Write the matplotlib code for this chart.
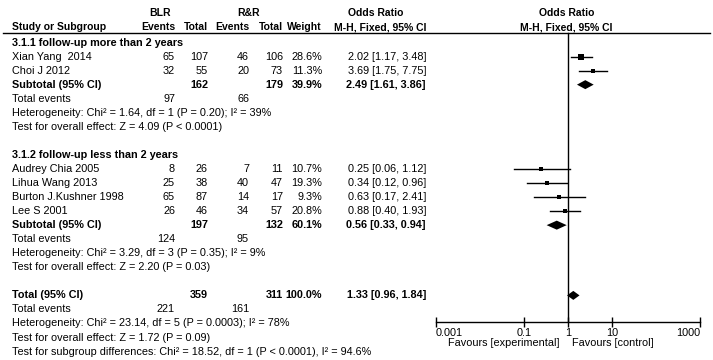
import numpy as np
import matplotlib.pyplot as plt
from matplotlib.patches import Polygon

plt.rcParams['font.family'] = ['Liberation Sans', 'DejaVu Sans']

# study data
studies = ["Xian Yang  2014", "Choi J 2012", "Audrey Chia 2005", "Lihua Wang 2013",
           "Burton J.Kushner 1998", "Lee S 2001"]
group = [0, 0, 1, 1, 1, 1]
blr_events = [65, 32, 8, 25, 65, 26]
blr_total = [107, 55, 26, 38, 87, 46]
rr_events = [46, 20, 7, 40, 14, 34]
rr_total = [106, 73, 11, 47, 17, 57]
weight = [28.6, 11.3, 10.7, 19.3, 9.3, 20.8]
odds = [2.02, 3.69, 0.25, 0.34, 0.63, 0.88]
ci_lo = [1.17, 1.75, 0.06, 0.12, 0.17, 0.40]
ci_hi = [3.48, 7.75, 1.12, 0.96, 2.41, 1.93]

# subgroups
sub_names = ["3.1.1 follow-up more than 2 years", "3.1.2 follow-up less than 2 years"]
sub_blr_total = [162, 197]
sub_rr_total = [179, 132]
sub_weight = [39.9, 60.1]
sub_odds = [2.49, 0.56]
sub_lo = [1.61, 0.33]
sub_hi = [3.86, 0.94]
sub_blr_events = [97, 124]
sub_rr_events = [66, 95]
sub_het = ["Heterogeneity: Chi² = 1.64, df = 1 (P = 0.20); I² = 39%",
           "Heterogeneity: Chi² = 3.29, df = 3 (P = 0.35); I² = 9%"]
sub_test = ["Test for overall effect: Z = 4.09 (P < 0.0001)",
            "Test for overall effect: Z = 2.20 (P = 0.03)"]

# overall
tot_blr_total, tot_rr_total, tot_weight = 359, 311, 100.0
tot_odds, tot_lo, tot_hi = 1.33, 0.96, 1.84
tot_blr_events, tot_rr_events = 221, 161
tot_notes = ["Heterogeneity: Chi² = 23.14, df = 5 (P = 0.0003); I² = 78%",
             "Test for overall effect: Z = 1.72 (P = 0.09)",
             "Test for subgroup differences: Chi² = 18.52, df = 1 (P < 0.0001), I² = 94.6%"]

ticks = [0.001, 0.1, 1, 10, 1000]
tick_labels = ["0.001", "0.1", "1", "10", "1000"]

W, H = 713, 360
fs = 7.8
hfs = 7.5  # header size
c = 'black'

fig = plt.figure(figsize=(W / 100, H / 100), dpi=100)
ax = fig.add_axes([0, 0, 1, 1])
ax.set_xlim(0, W)
ax.set_ylim(H, 0)
ax.axis('off')

# forest panel: x from px 435.7 to 700, bottom at px 322
fx0, fx1, fyb = 435.7, 700, 322
fa = fig.add_axes([fx0 / W, (H - fyb) / H, (fx1 - fx0) / W, fyb / H])
fa.set_xscale('log')
fa.set_xlim(0.001, 1000)
fa.set_ylim(fyb, 0)
fa.patch.set_visible(False)
for s in ['top', 'right', 'left']:
    fa.spines[s].set_visible(False)
fa.spines['bottom'].set_linewidth(1)
fa.set_yticks([])
fa.set_xticks(ticks)
fa.set_xticklabels(tick_labels)
fa.minorticks_off()
fa.tick_params(axis='x', direction='inout', length=7, width=1, labelsize=fs, pad=1)
lbls = fa.get_xticklabels()
lbls[0].set_horizontalalignment('left')
lbls[-1].set_horizontalalignment('right')


def row(i):
    return 42.5 + 14.05 * i


# column positions (right edges)
x_name = 12
x_be, x_bt, x_re, x_rt, x_w, x_ci = 175, 208, 249, 283, 322, 426

# headers
ax.text(160, 13, "BLR", ha='center', va='center', fontsize=hfs, fontweight='bold')
ax.text(248, 13, "R&R", ha='center', va='center', fontsize=hfs, fontweight='bold')
ax.text(376, 13, "Odds Ratio", ha='center', va='center', fontsize=hfs, fontweight='bold')
ax.text(567, 13, "Odds Ratio", ha='center', va='center', fontsize=hfs, fontweight='bold')
hy = 27
ax.text(x_name, hy, "Study or Subgroup", ha='left', va='center', fontsize=hfs, fontweight='bold')
for x, t in [(x_be, "Events"), (x_bt, "Total"), (x_re, "Events"), (x_rt, "Total"),
             (x_w, "Weight"), (x_ci, "M-H, Fixed, 95% CI")]:
    ax.text(x, hy, t, ha='right', va='center', fontsize=hfs, fontweight='bold')
ax.text(566, hy, "M-H, Fixed, 95% CI", ha='center', va='center', fontsize=hfs, fontweight='bold')
ax.plot([3, 710], [32.5, 32.5], color=c, lw=1)

fa.plot([1, 1], [32.5, fyb], color=c, lw=1)


def diamond(y, est, lo, hi, h=4.5):
    fa.add_patch(Polygon([(lo, y), (est, y - h), (hi, y), (est, y + h)],
                         closed=True, color=c, lw=0))


r = 0
for g in range(2):
    ax.text(x_name, row(r), sub_names[g], ha='left', va='center', fontsize=fs, fontweight='bold')
    r += 1
    for i in range(len(studies)):
        if group[i] != g:
            continue
        y = row(r)
        ax.text(x_name, y, studies[i], ha='left', va='center', fontsize=fs)
        ax.text(x_be, y, str(blr_events[i]), ha='right', va='center', fontsize=fs)
        ax.text(x_bt, y, str(blr_total[i]), ha='right', va='center', fontsize=fs)
        ax.text(x_re, y, str(rr_events[i]), ha='right', va='center', fontsize=fs)
        ax.text(x_rt, y, str(rr_total[i]), ha='right', va='center', fontsize=fs)
        ax.text(x_w, y, f"{weight[i]:.1f}%", ha='right', va='center', fontsize=fs)
        ax.text(x_ci, y, f"{odds[i]:.2f} [{ci_lo[i]:.2f}, {ci_hi[i]:.2f}]",
                ha='right', va='center', fontsize=fs)
        fa.plot([ci_lo[i], ci_hi[i]], [y, y], color=c, lw=1)
        fa.plot(odds[i], y, marker='s', color=c, ms=np.sqrt(weight[i]) * 0.72, mew=0)
        r += 1
    y = row(r)
    ax.text(x_name, y, "Subtotal (95% CI)", ha='left', va='center', fontsize=fs, fontweight='bold')
    ax.text(x_bt, y, str(sub_blr_total[g]), ha='right', va='center', fontsize=fs, fontweight='bold')
    ax.text(x_rt, y, str(sub_rr_total[g]), ha='right', va='center', fontsize=fs, fontweight='bold')
    ax.text(x_w, y, f"{sub_weight[g]:.1f}%", ha='right', va='center', fontsize=fs, fontweight='bold')
    ax.text(x_ci, y, f"{sub_odds[g]:.2f} [{sub_lo[g]:.2f}, {sub_hi[g]:.2f}]",
            ha='right', va='center', fontsize=fs, fontweight='bold')
    diamond(y, sub_odds[g], sub_lo[g], sub_hi[g])
    r += 1
    y = row(r)
    ax.text(x_name, y, "Total events", ha='left', va='center', fontsize=fs)
    ax.text(x_be, y, str(sub_blr_events[g]), ha='right', va='center', fontsize=fs)
    ax.text(x_re, y, str(sub_rr_events[g]), ha='right', va='center', fontsize=fs)
    r += 1
    ax.text(x_name, row(r), sub_het[g], ha='left', va='center', fontsize=fs)
    r += 1
    ax.text(x_name, row(r), sub_test[g], ha='left', va='center', fontsize=fs)
    r += 2

y = row(r)
ax.text(x_name, y, "Total (95% CI)", ha='left', va='center', fontsize=fs, fontweight='bold')
ax.text(x_bt, y, str(tot_blr_total), ha='right', va='center', fontsize=fs, fontweight='bold')
ax.text(x_rt, y, str(tot_rr_total), ha='right', va='center', fontsize=fs, fontweight='bold')
ax.text(x_w, y, f"{tot_weight:.1f}%", ha='right', va='center', fontsize=fs, fontweight='bold')
ax.text(x_ci, y, f"{tot_odds:.2f} [{tot_lo:.2f}, {tot_hi:.2f}]",
        ha='right', va='center', fontsize=fs, fontweight='bold')
diamond(y, tot_odds, tot_lo, tot_hi)
r += 1
y = row(r)
ax.text(x_name, y, "Total events", ha='left', va='center', fontsize=fs)
ax.text(x_be, y, str(tot_blr_events), ha='right', va='center', fontsize=fs)
ax.text(x_re, y, str(tot_rr_events), ha='right', va='center', fontsize=fs)
for t in tot_notes:
    r += 1
    ax.text(x_name, row(r), t, ha='left', va='center', fontsize=fs)

ax.text(560, 343, "Favours [experimental]", ha='right', va='center', fontsize=fs)
ax.text(572, 343, "Favours [control]", ha='left', va='center', fontsize=fs)

fig.savefig("out.png", dpi=100)
